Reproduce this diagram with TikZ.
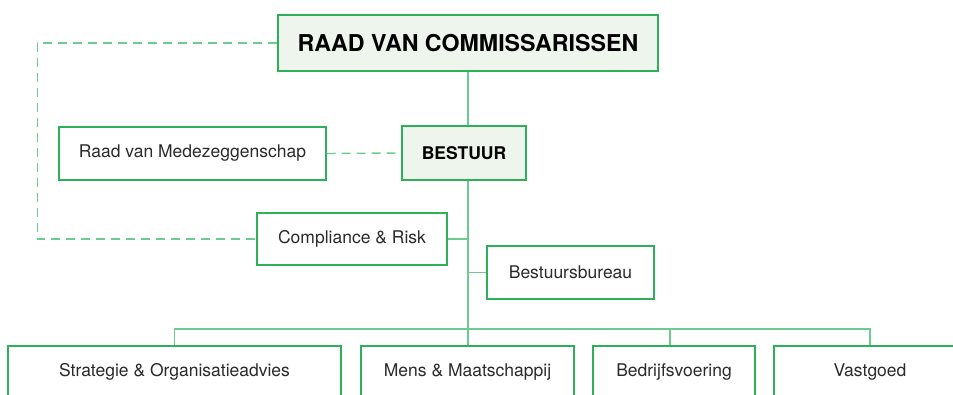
\documentclass[tikz,border=0pt]{standalone}
\usepackage{fontspec}
\setmainfont{TeX Gyre Heros}
\usetikzlibrary{positioning, calc}
\definecolor{orgBorder}{HTML}{2EB05A}
\definecolor{orgLine}{HTML}{6CCB8F}
\definecolor{orgFill}{HTML}{EDF5EC}
\definecolor{orgText}{HTML}{2A2A2A}
\tikzset{
  lineG/.style={orgLine, line width=1.4pt},
  lineD/.style={orgLine, line width=1.4pt, dash pattern=on 9pt off 6pt},
  boxPlain/.style={rectangle, draw=orgBorder, fill=white, line width=1.3pt,
                   align=center, font=\fontsize{17.5}{21}\selectfont, text=orgText,
                   inner sep=0pt},
  boxHead/.style={boxPlain, fill=orgFill, text=black, font=\bfseries\fontsize{17.5}{21}\selectfont},
}
\begin{document}
\begin{tikzpicture}[x=1pt, y=-1pt]
  \useasboundingbox (0,0) rectangle (953,395);
  \clip (0,0) rectangle (953,395);
  % top levels
  \node[boxHead, minimum width=380pt, minimum height=56pt, font=\bfseries\fontsize{23.2}{26}\selectfont]
        (rvc) at (468,43) {RAAD VAN COMMISSARISSEN};
  \node[boxHead, minimum width=124pt, minimum height=54pt] (bestuur) at (464,153) {BESTUUR};
  \node[boxPlain, minimum width=267pt, minimum height=53pt] (rvm) at (192.5,153.5) {Raad van Medezeggenschap};
  \node[boxPlain, minimum width=190pt, minimum height=52pt] (comp) at (352,239) {Compliance \& Risk};
  \node[boxPlain, minimum width=167pt, minimum height=53pt] (bureau) at (570.5,272.5) {Bestuursbureau};
  % bottom row
  \node[boxPlain, minimum width=333pt, minimum height=52pt] (strat) at (174.5,372) {Strategie \& Organisatieadvies};
  \node[boxPlain, minimum width=213pt, minimum height=52pt] (mens) at (467.5,372) {Mens \& Maatschappij};
  \node[boxPlain, minimum width=162pt, minimum height=52pt] (bedr) at (674,372) {Bedrijfsvoering};
  \node[boxPlain, minimum width=192pt, minimum height=52pt] (vast) at (870,372) {Vastgoed};
  \coordinate (bus) at (468,329);
  % connectors
  \draw[lineG] (rvc.south) -- (rvc.south |- bestuur.north);
  \draw[lineG] (rvc.south |- bestuur.south) -- (rvc.south |- mens.north);
  \draw[lineG] (comp.east) -- (comp.east -| rvc.south);
  \draw[lineG] (bureau.west) -- (bureau.west -| rvc.south);
  \draw[lineG] (strat.north) |- (bus) -| (vast.north);
  \draw[lineG] ([xshift=-4pt]bedr.north) -- ([xshift=-4pt]bedr.north |- bus);
  \draw[lineD] (rvc.west) -- ++(-240,0) |- (comp.west);
  \draw[lineD] (rvm.east) -- (bestuur.west);
\end{tikzpicture}
\end{document}
